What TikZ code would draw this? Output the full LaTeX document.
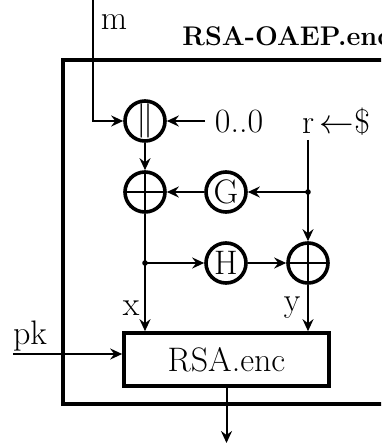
\documentclass[tikz,border=0pt]{standalone}
\usetikzlibrary{arrows.meta}
\tikzset{
  conn/.style={line width=1pt,-{Stealth[length=6pt,width=5.5pt,inset=2pt]}},
  plainline/.style={line width=1pt},
  opcirc/.style={circle,draw,line width=1.8pt,minimum size=20pt,inner sep=0pt,font=\fontsize{17}{19}\selectfont},
  xorcirc/.style={opcirc,path picture={
     \draw[line width=1pt] (path picture bounding box.north) -- (path picture bounding box.south)
       (path picture bounding box.west) -- (path picture bounding box.east);}},
  lbl/.style={inner sep=0pt,font=\fontsize{17}{19}\selectfont},
  dotj/.style={circle,fill,inner sep=0pt,minimum size=2.8pt}
}
\begin{document}
\begin{tikzpicture}[x=0.5pt,y=-0.5pt]
\useasboundingbox (0,0) rectangle (381,443);
\clip (0,0) rectangle (381,443);
% outer box
\draw[line width=1.8pt] (63,60) rectangle (420,404);
\node[inner sep=0pt,anchor=base west,font=\fontsize{13.5}{15}\selectfont\bfseries] (title) at (182,46) {RSA-OAEP.enc};
% nodes
\node[opcirc] (cat) at (145,121) {$\big\|$};
\node[xorcirc] (xor1) at (145,192) {};
\node[opcirc] (G) at (226,192) {G};
\node[opcirc] (H) at (226,263) {H};
\node[xorcirc] (xor2) at (308,263) {};
\node[draw,line width=1.8pt,minimum width=102.5pt,minimum height=26.5pt,inner sep=0pt,font=\fontsize{17}{19}\selectfont] (rsa) at (226.5,359.5) {RSA.enc};
% labels
\node[lbl] (m) at (114,22) {m};
\node[lbl] (zeros) at (239,122) {0..0};
\node[lbl] (r) at (336,122) {r\,$\leftarrow$\$};
\node[lbl] (x) at (131,308) {x};
\node[lbl] (y) at (292,308) {y};
\node[lbl] (pk) at (30,336) {pk};
% coordinates
\coordinate (mtop) at (93,0);
\coordinate (mcorner) at (93,121);
\coordinate (zin) at (205,121);
\coordinate (rtop) at (308,140);
\coordinate (j1) at (308,192);
\coordinate (j2) at (145,263);
\coordinate (pkstart) at (13,354);
\coordinate (out) at (226.5,443);
% connectors
\draw[conn] (mtop) -- (mcorner) -- (cat);
\draw[conn] (zin) -- (cat);
\draw[conn] (cat) -- (xor1);
\draw[conn] (rtop) -- (xor2);
\draw[conn] (j1) -- (G);
\draw[conn] (G) -- (xor1);
\draw[plainline] (xor1) -- (j2);
\draw[conn] (j2) -- (rsa.north -| j2);
\draw[conn] (j2) -- (H);
\draw[conn] (H) -- (xor2);
\draw[conn] (xor2) -- (rsa.north -| xor2);
\draw[conn] (pkstart) -- (pkstart -| rsa.west);
\draw[conn] (rsa) -- (out);
\node[dotj] at (j1) {};
\node[dotj] at (j2) {};
\end{tikzpicture}
\end{document}
